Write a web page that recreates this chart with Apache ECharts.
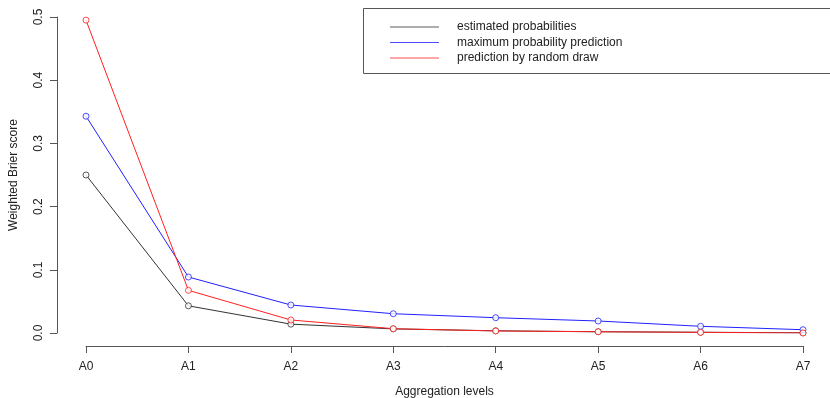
<!DOCTYPE html>
<html>
<head>
<meta charset="utf-8">
<script src="https://cdn.jsdelivr.net/npm/echarts@6/dist/echarts.min.js"></script>
<style>
  html, body { margin: 0; padding: 0; background: #fff; }
  #main { width: 830px; height: 398px; }
</style>
</head>
<body>
<div id="main"></div>
<script>
  // aggregation levels on the x axis
  const levels = ['A0', 'A1', 'A2', 'A3', 'A4', 'A5', 'A6', 'A7']

  // weighted Brier score per level
  const estimated = [0.250, 0.043, 0.014, 0.0065, 0.0035, 0.002, 0.0012, 0.0003]
  const maxProb = [0.343, 0.0886, 0.0443, 0.0305, 0.0242, 0.019, 0.0106, 0.0052]
  const randomDraw = [0.495, 0.0675, 0.0206, 0.0068, 0.0032, 0.002, 0.001, 0.0]

  const seriesNames = ['estimated probabilities', 'maximum probability prediction', 'prediction by random draw']
  const seriesColors = ['#333333', '#2020ff', '#ff2020']

  const yTicks = { min: 0, max: 0.5, interval: 0.1 }

  const chartDom = document.getElementById('main')
  const myChart = echarts.init(chartDom)

  const dataList = [estimated, maxProb, randomDraw]
  const line_series = []
  for (let i = 0; i < dataList.length; i++) {
    line_series.push({
      name: seriesNames[i],
      type: 'line',
      data: dataList[i],
      symbol: 'circle',
      symbolSize: 6,
      showSymbol: true,
      animation: false,
      color: seriesColors[i],
      lineStyle: { width: 1, color: seriesColors[i] },
      itemStyle: { color: '#fff', borderColor: seriesColors[i], borderWidth: 1, opacity: 0.8 },
      emphasis: { disabled: true }
    })
  }

  const legendData = seriesNames.map((n, i) => ({ name: n, itemStyle: { color: seriesColors[i], borderWidth: 0 } }))

  const axisFont = { fontFamily: 'Liberation Sans, Arial, sans-serif', fontSize: 12, color: '#222' }

  const option = {
    animation: false,
    grid: { left: 86, right: 27, top: 17, bottom: 65, outerBoundsMode: 'none', containLabel: false },
    graphic: [{
      type: 'rect',
      left: 361, top: 6,
      shape: { width: 480, height: 65 },
      style: { fill: 'none', stroke: '#555', lineWidth: 1 },
      silent: true
    }],
    legend: {
      orient: 'vertical',
      left: 385, top: 16,
      icon: 'rect',
      itemWidth: 49,
      itemHeight: 1,
      itemGap: 3.5,
      data: legendData,
      textStyle: { fontFamily: 'Liberation Sans, Arial, sans-serif', fontSize: 12, color: '#222', padding: [0, 0, 0, 13] }
    },
    xAxis: {
      type: 'category',
      data: levels,
      boundaryGap: false,
      offset: 13,
      name: 'Aggregation levels',
      nameLocation: 'middle',
      nameGap: 40,
      nameTextStyle: axisFont,
      axisLine: { show: true, onZero: false, lineStyle: { color: '#555', width: 1 } },
      axisTick: { length: 7, lineStyle: { color: '#555' }, alignWithLabel: true },
      axisLabel: Object.assign({ margin: 15 }, axisFont),
      splitLine: { show: false }
    },
    yAxis: {
      type: 'value',
      min: yTicks.min,
      max: yTicks.max,
      interval: yTicks.interval,
      offset: 29,
      name: 'Weighted Brier score',
      nameLocation: 'middle',
      nameGap: 37,
      nameRotate: 90,
      nameTextStyle: axisFont,
      axisLine: { show: true, onZero: false, lineStyle: { color: '#555', width: 1 } },
      axisTick: { show: true, length: 7, lineStyle: { color: '#555' } },
      axisLabel: Object.assign({ margin: 12, rotate: 90, formatter: v => v.toFixed(1) }, axisFont),
      splitLine: { show: false }
    },
    series: line_series
  }

  myChart.setOption(option)
</script>
</body>
</html>
